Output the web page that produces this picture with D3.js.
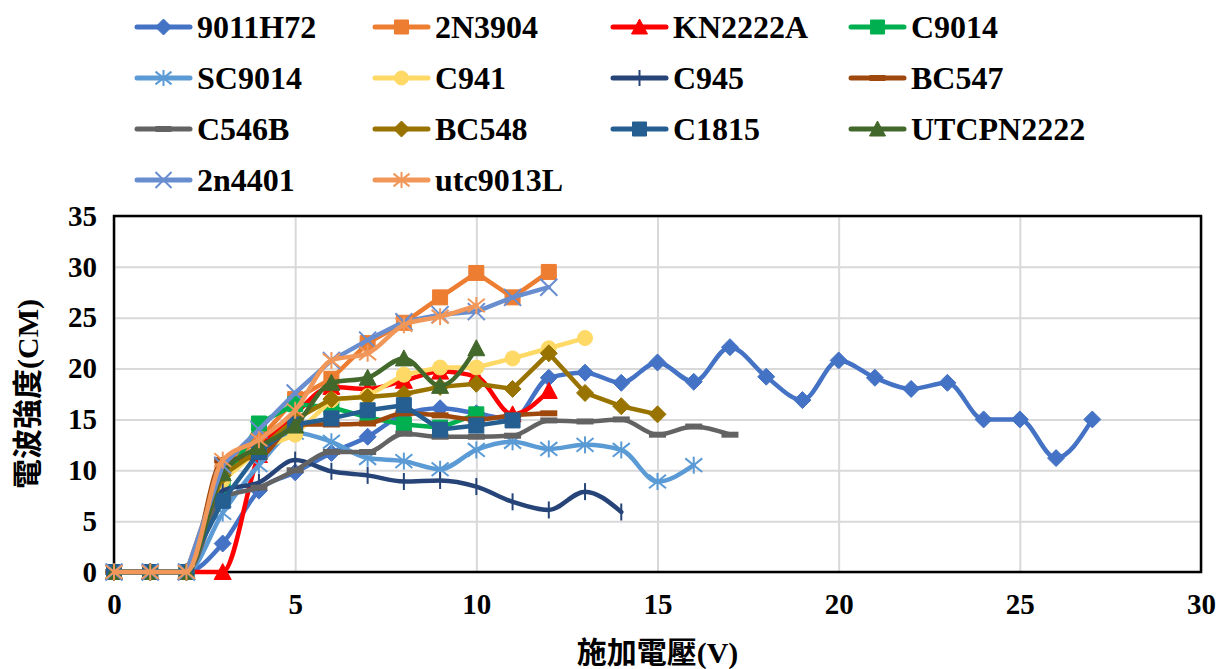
<!DOCTYPE html>
<html><head><meta charset="utf-8">
<script src="https://cdn.jsdelivr.net/npm/d3@7"></script>
<style>
html,body{margin:0;padding:0;background:#fff;}
svg text{font-family:"Liberation Serif","Times New Roman","Noto Sans CJK TC",serif;font-weight:bold;fill:#000;}
</style></head>
<body><svg id="c" width="1220" height="669"></svg>
<script>
// ---- data ----
const seriesNames = ["9011H72","2N3904","KN2222A","C9014","SC9014","C941","C945","BC547","C546B","BC548","C1815","UTCPN2222","2n4401","utc9013L"];
const v9011H72  = [0,0,0,2.8,8,9.8,11.7,13.3,15.5,16.1,15.6,15,19.1,19.6,18.6,20.6,18.7,22.1,19.2,16.9,20.8,19.1,18,18.6,15,15,11.2,15];
const v2N3904   = [0,0,0,10.5,13,17,19,22.5,24.5,27,29.4,27,29.5];
const vKN2222A  = [0,0,0,0,11.5,15.5,18.2,18,18.8,19.7,19.2,15.5,17.8];
const vC9014    = [0,0,0,8.5,14.6,16.5,16.2,15.2,14.5,14.2,15.5];
const vSC9014   = [0,0,0,5.8,10.5,13.7,12.8,11.2,10.9,10.1,12,12.8,12.1,12.5,12,8.9,10.5];
const vC941     = [0,0,0,9,12,13.5,16.9,17.3,19.4,20.1,20.1,21,22,23];
const vC945     = [0,0,0,8,8.8,11,9.9,9.5,8.9,9,8.4,6.9,6.1,7.9,5.9];
const vBC547    = [0,0,0,11,11.3,14.5,14.5,14.6,15.6,15.4,15,15.4,15.6];
const vC546B    = [0,0,0,7.3,8.3,10,11.8,11.8,13.6,13.3,13.3,13.4,14.9,14.8,15,13.5,14.3,13.5];
const vBC548    = [0,0,0,9.5,12,15,17,17.2,17.5,18.2,18.5,18,21.5,17.6,16.3,15.5];
const vC1815    = [0,0,0,7,11.8,14.5,15.1,15.9,16.4,14,14.4,14.9];
const vUTCPN2222= [0,0,0,9.7,12.3,14.4,18.6,19.1,21,18.3,22];
const v2n4401   = [0,0,0,10.5,14,17.6,20.8,22.8,24.6,25.3,25.6,27,28];
const vutc9013L = [0,0,0,11,13,15.9,20.8,21.5,24.3,25.1,26.2];
const seriesValues = [v9011H72,v2N3904,vKN2222A,vC9014,vSC9014,vC941,vC945,vBC547,vC546B,vBC548,vC1815,vUTCPN2222,v2n4401,vutc9013L];
const xTicks = [0,5,10,15,20,25,30];
const yTicks = [0,5,10,15,20,25,30,35];
const xTitle = "施加電壓(V)";
const yTitle = "電波強度(CM)";

// ---- styles ----
const colors = ["#4472C4","#ED7D31","#FF0000","#00B050","#5B9BD5","#FFD966","#264478","#9E480E","#636363","#997300","#255E91","#43682B","#698ED0","#F1975A"];
const markers = ["diamond","square","triangle","square","asterisk","circle","plus","dash","dash","diamond","square","triangle","cross","asterisk"];
const smooth = [true,false,true,false,true,false,true,true,true,false,false,true,false,true];

const svg = d3.select("#c");
const L=114,R=1201,T=216,B=572;
const x = d3.scaleLinear().domain([0,30]).range([L,R]);
const y = d3.scaleLinear().domain([0,35]).range([B,T]);

// gridlines
svg.append("g").attr("transform",`translate(0,${B})`)
  .call(d3.axisBottom(x).tickValues(xTicks).tickSize(-(B-T)).tickFormat(""))
  .call(g=>g.select(".domain").remove())
  .call(g=>g.selectAll("line").attr("stroke","#D9D9D9").attr("stroke-width",2));
svg.append("g").attr("transform",`translate(${L},0)`)
  .call(d3.axisLeft(y).tickValues(yTicks).tickSize(-(R-L)).tickFormat(""))
  .call(g=>g.select(".domain").remove())
  .call(g=>g.selectAll("line").attr("stroke","#D9D9D9").attr("stroke-width",2));

// tick labels
svg.append("g").attr("transform",`translate(${L-14},0)`)
  .call(d3.axisLeft(y).tickValues(yTicks).tickSize(0).tickFormat(d3.format("d")))
  .call(g=>g.select(".domain").remove())
  .call(g=>g.selectAll("text").attr("font-size",29).attr("fill","#000").style("font-family","'Liberation Serif',serif").style("font-weight","bold"));
svg.append("g").attr("transform",`translate(0,${B+18})`)
  .call(d3.axisBottom(x).tickValues(xTicks).tickSize(0).tickFormat(d3.format("d")))
  .call(g=>g.select(".domain").remove())
  .call(g=>g.selectAll("text").attr("font-size",29).attr("fill","#000").style("font-family","'Liberation Serif',serif").style("font-weight","bold"));

// plot border
svg.append("rect").attr("x",L).attr("y",T).attr("width",R-L).attr("height",B-T)
  .attr("fill","none").attr("stroke","#000").attr("stroke-width",2.5);

function markerPath(type, s){
  const h=s/2;
  switch(type){
    case "diamond": return `M0,${-h-1}L${h+1},0L0,${h+1}L${-h-1},0Z`;
    case "square": return `M${-h},${-h}H${h}V${h}H${-h}Z`;
    case "triangle": return `M0,${-h-1}L${h+1},${h}L${-h-1},${h}Z`;
    case "circle": return d3.symbol(d3.symbolCircle, Math.PI*h*h)();
    default: return null;
  }
}
function drawMarker(g, type, color, cx, cy, s){
  const p = markerPath(type,s);
  if(p){
    g.append("path").attr("d",p).attr("transform",`translate(${cx},${cy})`).attr("fill",color).attr("stroke",color).attr("stroke-width",1);
    return;
  }
  const h=s/2+1;
  const gg=g.append("g").attr("transform",`translate(${cx},${cy})`).attr("stroke",color).attr("fill","none");
  if(type==="plus"){
    gg.append("line").attr("x1",0).attr("x2",0).attr("y1",-h).attr("y2",h).attr("stroke-width",2);
  } else if(type==="cross"){
    gg.append("line").attr("x1",-h).attr("x2",h).attr("y1",-h).attr("y2",h).attr("stroke-width",2);
    gg.append("line").attr("x1",-h).attr("x2",h).attr("y1",h).attr("y2",-h).attr("stroke-width",2);
  } else if(type==="asterisk"){
    gg.append("line").attr("x1",0).attr("x2",0).attr("y1",-h).attr("y2",h).attr("stroke-width",2);
    gg.append("line").attr("x1",-h).attr("x2",h).attr("y1",-h*0.8).attr("y2",h*0.8).attr("stroke-width",2);
    gg.append("line").attr("x1",-h).attr("x2",h).attr("y1",h*0.8).attr("y2",-h*0.8).attr("stroke-width",2);
  } else if(type==="dash"){
    gg.append("line").attr("x1",-h).attr("x2",h).attr("y1",0).attr("y2",0).attr("stroke-width",6);
  }
}

// series
const plot = svg.append("g");
seriesValues.forEach((vals,i)=>{
  const pts = vals.map((v,k)=>[k,v]);
  const line = d3.line().x(d=>x(d[0])).y(d=>y(d[1]))
    .curve(smooth[i]? d3.curveMonotoneX : d3.curveLinear);
  const g = plot.append("g");
  g.append("path").attr("d",line(pts)).attr("fill","none").attr("stroke",colors[i])
    .attr("stroke-width",4.5).attr("stroke-linejoin","round").attr("stroke-linecap","round");
  pts.forEach(p=>drawMarker(g,markers[i],colors[i],x(p[0]),y(p[1]),15));
});

// legend
const legX0=137, legDX=238, legY0=27, legDY=51;
seriesNames.forEach((name,i)=>{
  const col=i%4, row=Math.floor(i/4);
  const lx=legX0+col*legDX, ly=legY0+row*legDY;
  const g=svg.append("g");
  g.append("line").attr("x1",lx).attr("x2",lx+53).attr("y1",ly).attr("y2",ly)
    .attr("stroke",colors[i]).attr("stroke-width",5).attr("stroke-linecap","round");
  drawMarker(g,markers[i],colors[i],lx+26.5,ly,14);
  g.append("text").attr("x",lx+60).attr("y",ly).attr("dy","0.35em").attr("font-size",32).text(name);
});

// axis titles
svg.append("text").attr("x",(L+R)/2).attr("y",652).attr("dy","0.35em").attr("text-anchor","middle")
  .attr("font-size",30).text(xTitle);
svg.append("text").attr("transform",`translate(27,${(T+B)/2}) rotate(-90)`).attr("dy","0.35em")
  .attr("text-anchor","middle").attr("font-size",30).text(yTitle);
</script></body></html>
